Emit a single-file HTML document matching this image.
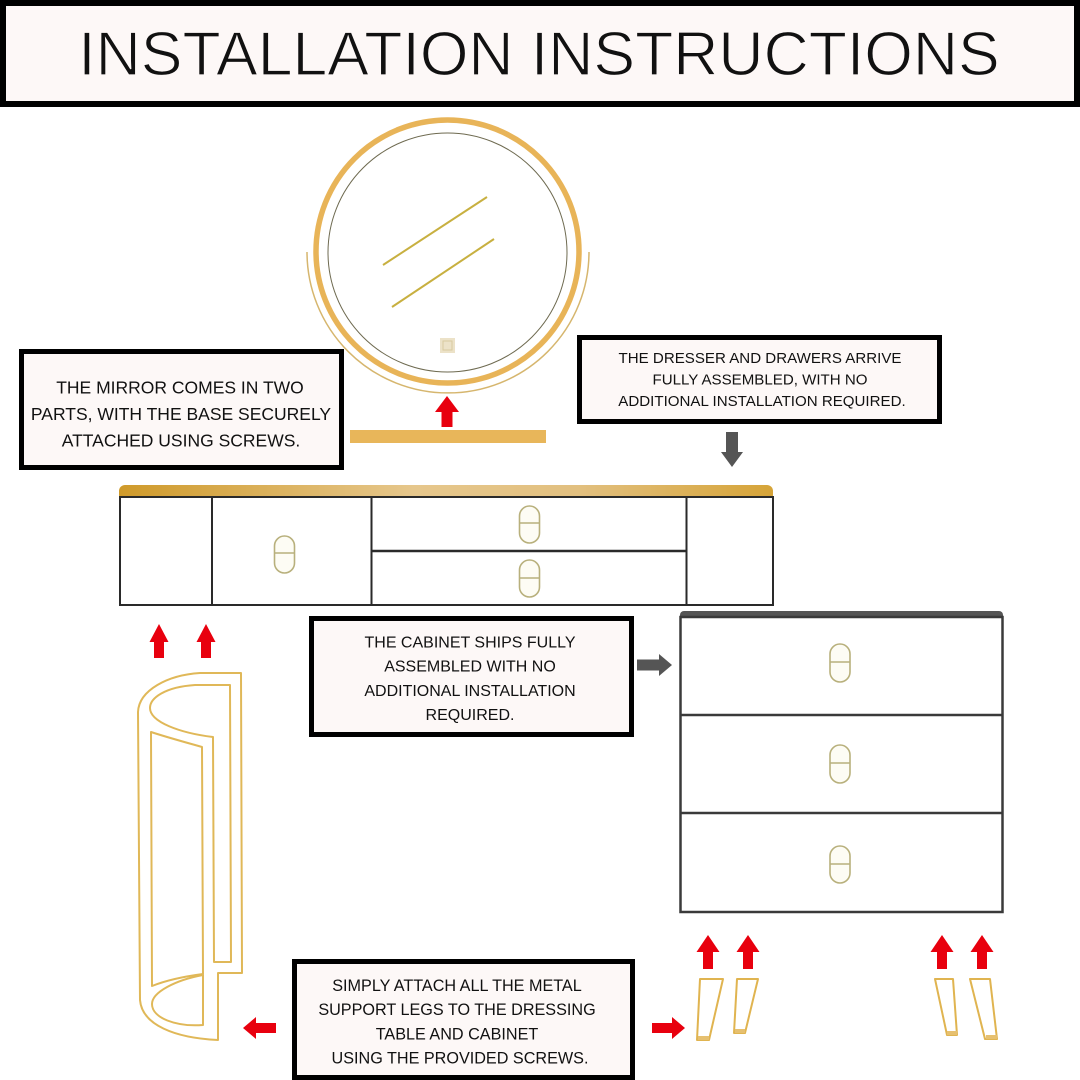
<!DOCTYPE html>
<html><head><meta charset="utf-8"><style>
html,body{margin:0;padding:0;background:#fff;}
svg{display:block;}
text{font-family:"Liberation Sans",Arial,sans-serif;fill:#111;}
</style></head><body>
<svg width="1080" height="1080" viewBox="0 0 1080 1080" xmlns="http://www.w3.org/2000/svg">
<defs>
<linearGradient id="gt" x1="0" x2="1" y1="0" y2="0">
<stop offset="0" stop-color="#cf9a2a"/>
<stop offset="0.45" stop-color="#e6c78c"/>
<stop offset="0.7" stop-color="#e2c080"/>
<stop offset="1" stop-color="#d6a438"/>
</linearGradient>
</defs>
<rect width="1080" height="1080" fill="#fff"/>

<!-- Title -->
<rect x="3" y="3" width="1074" height="101" fill="#fdf8f7" stroke="#000" stroke-width="6"/>
<text x="539" y="75" font-size="62.5" text-anchor="middle" fill="#0a0a0a" stroke="#fdf8f7" stroke-width="1.2">INSTALLATION INSTRUCTIONS</text>

<!-- Mirror -->
<path d="M307,252 A141,141 0 0 0 589,252" fill="none" stroke="#d6b66e" stroke-width="1.5"/>
<circle cx="447.5" cy="251.5" r="131.5" fill="#fff" stroke="#e8b458" stroke-width="5.5"/>
<circle cx="447.5" cy="252.5" r="119.5" fill="none" stroke="#6e6a50" stroke-width="1"/>
<line x1="383" y1="265" x2="487" y2="197" stroke="#c8b040" stroke-width="2"/>
<line x1="392" y1="307" x2="494" y2="239" stroke="#c8b040" stroke-width="2"/>
<rect x="440" y="338" width="15" height="15" fill="#ece2c8"/>
<rect x="443" y="341" width="9" height="9" fill="none" stroke="#d8caa0" stroke-width="1"/>
<rect x="350" y="430" width="196" height="13" fill="#e8b65a"/>
<polygon points="447,396 459,412 452.5,412 452.5,427 441.5,427 441.5,412 435,412" fill="#e8000e"/>

<!-- Mirror box -->
<rect x="21.5" y="351.5" width="320" height="116" fill="#fdf8f7" stroke="#000" stroke-width="5"/>
<text x="180" y="393.5" font-size="17.5" text-anchor="middle">THE MIRROR COMES IN TWO</text>
<text x="181" y="420" font-size="17.5" text-anchor="middle">PARTS, WITH THE BASE SECURELY</text>
<text x="181" y="446.5" font-size="17.5" text-anchor="middle">ATTACHED USING SCREWS.</text>

<!-- Dresser box -->
<rect x="579.5" y="337.5" width="360" height="84" fill="#fdf8f7" stroke="#000" stroke-width="5"/>
<text x="760" y="363" font-size="15.1" text-anchor="middle">THE DRESSER AND DRAWERS ARRIVE</text>
<text x="760" y="384.5" font-size="15.1" text-anchor="middle">FULLY ASSEMBLED, WITH NO</text>
<text x="762" y="406" font-size="15.1" text-anchor="middle">ADDITIONAL INSTALLATION REQUIRED.</text>
<polygon points="732,467 743,452 738,452 738,432 726,432 726,452 721,452" fill="#555"/>

<!-- Table -->
<rect x="119" y="485" width="654" height="16" rx="6" fill="url(#gt)"/>
<rect x="120" y="497" width="653" height="108" fill="#fff" stroke="#2a2a2a" stroke-width="2"/>
<line x1="212" y1="497" x2="212" y2="605" stroke="#2a2a2a" stroke-width="2"/>
<line x1="371.5" y1="497" x2="371.5" y2="605" stroke="#2a2a2a" stroke-width="2"/>
<line x1="686.5" y1="497" x2="686.5" y2="605" stroke="#2a2a2a" stroke-width="2"/>
<line x1="371.5" y1="551" x2="686.5" y2="551" stroke="#2a2a2a" stroke-width="2.5"/>
<g fill="#fdfcf4" stroke="#b8b07c" stroke-width="1.6">
<rect x="274.5" y="536" width="20" height="37" rx="10"/>
<line x1="274.5" y1="553" x2="294.5" y2="553"/>
<rect x="519.5" y="506" width="20" height="37" rx="10"/>
<line x1="519.5" y1="523" x2="539.5" y2="523"/>
<rect x="519.5" y="560" width="20" height="37" rx="10"/>
<line x1="519.5" y1="578" x2="539.5" y2="578"/>
</g>

<!-- red arrows under table -->
<polygon points="159,624 168.5,642 164,642 164,658 154,658 154,642 149.5,642" fill="#e8000e"/>
<polygon points="206,624 215.5,642 211,642 211,658 201,658 201,642 196.5,642" fill="#e8000e"/>

<!-- Side panel -->
<g fill="none" stroke="#e0b858" stroke-width="2" stroke-linejoin="round">
<path d="M241,673 L200,673 C168,675 139,690 138,712 L140,1000 C142,1025 175,1038 218,1040 L218,973 L242,973 Z"/>
<path d="M230,685 L195,685 C165,687 150,698 150,708 C150,722 180,733 213,737 L214,962 L231,962 Z"/>
<path d="M151,732 C166,737 188,743 202,747 L203,974 C180,977 162,982 152,986 Z"/>
<path d="M203,975 C176,980 152,992 152,1004 C152,1018 176,1027 203,1025 Z"/>
</g>

<!-- Cabinet box -->
<rect x="311.5" y="618.5" width="320" height="116" fill="#fdf8f7" stroke="#000" stroke-width="5"/>
<text x="470" y="647.5" font-size="16" text-anchor="middle">THE CABINET SHIPS FULLY</text>
<text x="470" y="671.5" font-size="16" text-anchor="middle">ASSEMBLED WITH NO</text>
<text x="470" y="696" font-size="16" text-anchor="middle">ADDITIONAL INSTALLATION</text>
<text x="470" y="720" font-size="16" text-anchor="middle">REQUIRED.</text>
<polygon points="672,665 659,654 659,659.5 637,659.5 637,670.5 659,670.5 659,676" fill="#555"/>

<!-- Cabinet -->
<rect x="680" y="611" width="323" height="12" rx="4" fill="#555"/>
<rect x="680.5" y="617" width="322" height="295" fill="#fff" stroke="#3a3a3a" stroke-width="2.5"/>
<line x1="680.5" y1="715" x2="1002.5" y2="715" stroke="#3a3a3a" stroke-width="2.5"/>
<line x1="680.5" y1="813" x2="1002.5" y2="813" stroke="#3a3a3a" stroke-width="2.5"/>
<g fill="#fdfcf4" stroke="#b8b07c" stroke-width="1.6">
<rect x="830" y="644" width="20" height="38" rx="10"/>
<line x1="830" y1="662" x2="850" y2="662"/>
<rect x="830" y="745" width="20" height="38" rx="10"/>
<line x1="830" y1="763" x2="850" y2="763"/>
<rect x="830" y="846" width="20" height="37" rx="10"/>
<line x1="830" y1="864" x2="850" y2="864"/>
</g>

<!-- Leg arrows -->
<polygon points="708,935 719.5,952 713,952 713,969 703,969 703,952 696.5,952" fill="#e8000e"/>
<polygon points="748,935 759.5,952 753,952 753,969 743,969 743,952 736.5,952" fill="#e8000e"/>
<polygon points="942,935 953.5,952 947,952 947,969 937,969 937,952 930.5,952" fill="#e8000e"/>
<polygon points="982,935 993.5,952 987,952 987,969 977,969 977,952 970.5,952" fill="#e8000e"/>

<!-- Legs -->
<g fill="#fff" stroke="#e0b450" stroke-width="2" stroke-linejoin="round">
<polygon points="700,979 723,979 709,1040 697,1040"/>
<polygon points="737,979 758,979 745,1033 734,1033"/>
<polygon points="935,979 953,979 957,1035 947,1035"/>
<polygon points="970,979 990,979 997,1039 985,1039"/>
</g>
<g fill="#e6c070">
<rect x="698" y="1036" width="11" height="4"/>
<rect x="735" y="1029" width="10" height="4"/>
<rect x="947" y="1031" width="10" height="4"/>
<rect x="986" y="1035" width="11" height="4"/>
</g>

<!-- Bottom box -->
<rect x="294.5" y="961.5" width="338" height="116" fill="#fdf8f7" stroke="#000" stroke-width="5"/>
<text x="457" y="991" font-size="16.2" text-anchor="middle">SIMPLY ATTACH ALL THE METAL</text>
<text x="457" y="1015" font-size="16.2" text-anchor="middle">SUPPORT LEGS TO THE DRESSING</text>
<text x="457" y="1039.3" font-size="16.2" text-anchor="middle">TABLE AND CABINET</text>
<text x="460" y="1063.3" font-size="16.2" text-anchor="middle">USING THE PROVIDED SCREWS.</text>

<polygon points="243,1028 256,1017 256,1023 276,1023 276,1033 256,1033 256,1039" fill="#e8000e"/>
<polygon points="685,1028 672,1017 672,1023 652,1023 652,1033 672,1033 672,1039" fill="#e8000e"/>
</svg>
</body></html>
